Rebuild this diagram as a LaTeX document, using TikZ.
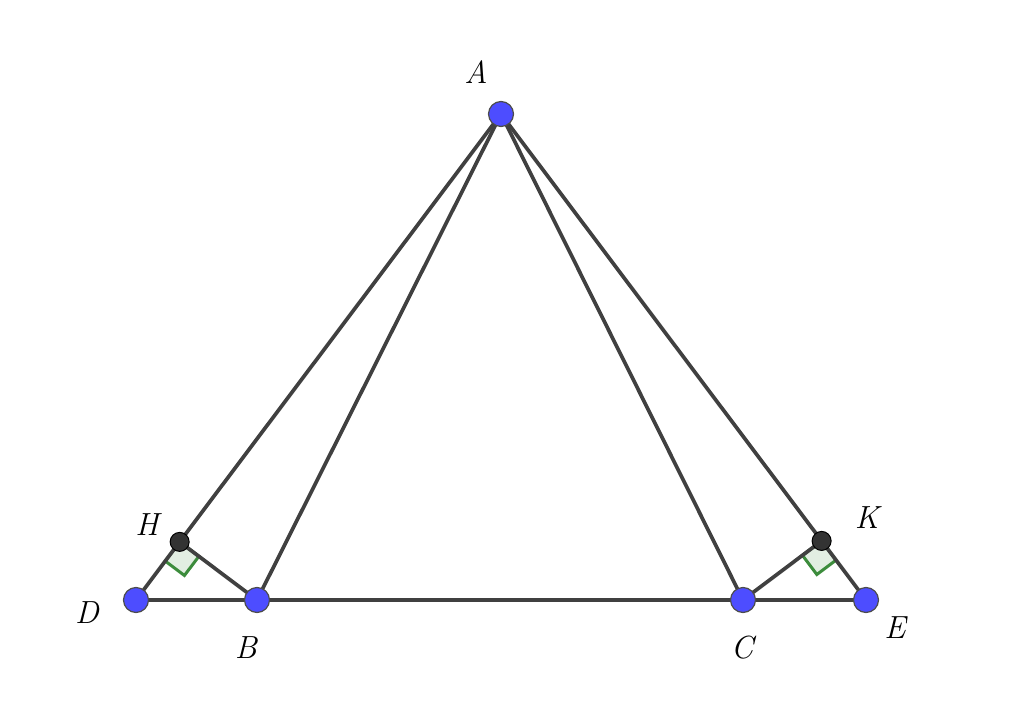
\documentclass[tikz,border=0pt]{standalone}
\usetikzlibrary{calc}
\definecolor{seg}{HTML}{404040}
\definecolor{ptblue}{HTML}{4D4DFF}
\definecolor{ptdark}{HTML}{333333}
\definecolor{rgreen}{HTML}{3C8C3C}
\definecolor{rfill}{HTML}{E2EEE2}
\begin{document}
\begin{tikzpicture}[x=1pt,y=-1pt,
  segline/.style={draw=seg,line width=3.7pt,line cap=round},
  bluept/.style={circle,fill=ptblue,draw=black!70,line width=1.2pt,minimum size=25pt,inner sep=0pt},
  darkpt/.style={circle,fill=ptdark,draw=black,line width=1pt,minimum size=19pt,inner sep=0pt},
  lbl/.style={font=\fontsize{32}{38}\selectfont\itshape},
  rmark/.style={draw=rgreen,fill=rfill,line width=3pt}]
\useasboundingbox (0,0) rectangle (1024,708);
\coordinate (A) at (501,114);
\coordinate (D) at (136,600);
\coordinate (B) at (257,600);
\coordinate (C) at (743,600);
\coordinate (E) at (866,600);
\coordinate (H) at ($(A)!(B)!(D)$);
\coordinate (K) at ($(A)!(C)!(E)$);
% right angle marks
\path[rmark] (H) -- ($(H)!24pt!(D)$) -- ($($(H)!24pt!(D)$)+($(H)!24pt!(B)$)-(H)$) -- ($(H)!24pt!(B)$) -- cycle;
\path[rmark] (K) -- ($(K)!24pt!(E)$) -- ($($(K)!24pt!(E)$)+($(K)!24pt!(C)$)-(K)$) -- ($(K)!24pt!(C)$) -- cycle;
% segments
\draw[segline] (A) -- (D);
\draw[segline] (A) -- (E);
\draw[segline] (A) -- (B);
\draw[segline] (A) -- (C);
\draw[segline] (D) -- (E);
\draw[segline] (H) -- (B);
\draw[segline] (K) -- (C);
% points
\node[bluept] (nA) at (A) {};
\node[bluept] (nD) at (D) {};
\node[bluept] (nB) at (B) {};
\node[bluept] (nC) at (C) {};
\node[bluept] (nE) at (E) {};
\node[darkpt] (nH) at (H) {};
\node[darkpt] (nK) at (K) {};
% labels
\node[lbl] (lA) at (476,72) {A};
\node[lbl] (lH) at (147,525) {H};
\node[lbl] (lD) at (87,613) {D};
\node[lbl] (lB) at (246,648) {B};
\node[lbl] (lC) at (742,648) {C};
\node[lbl] (lK) at (867,518) {K};
\node[lbl] (lE) at (895,628) {E};
\end{tikzpicture}
\end{document}
